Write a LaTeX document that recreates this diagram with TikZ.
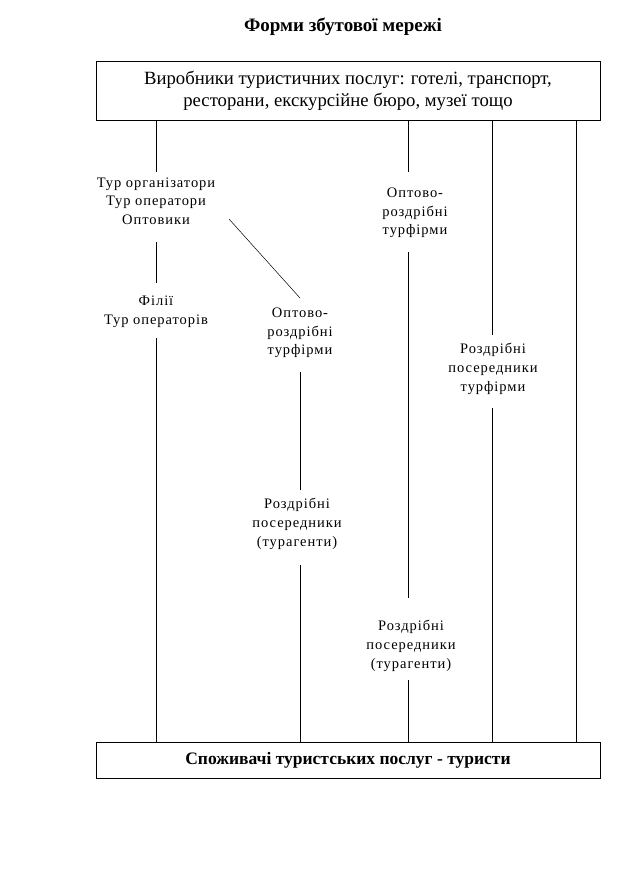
\documentclass[tikz,border=0pt]{standalone}
\usepackage{fontspec}
\setmainfont{Liberation Serif}
\begin{document}
\begin{tikzpicture}[x=1pt,y=-1pt,
  lbl/.style={align=center, inner sep=0pt, font=\addfontfeatures{LetterSpace=6.5}\fontsize{14.5}{18.7}\selectfont},
  bigbox/.style={draw, line width=0.8pt, minimum width=504pt, inner sep=0pt, align=center},
  ln/.style={line width=0.7pt}]
\useasboundingbox (0,0) rectangle (637,889);
\node[font=\bfseries\fontsize{19}{22}\selectfont] (title) at (343,27) {Форми збутової мережі};
\node[bigbox, minimum height=59pt, font=\fontsize{18.7}{22.5}\selectfont] (top) at (348,91)
  {Виробники туристичних послуг: готелі, транспорт,\\ресторани, екскурсійне бюро, музеї тощо};
\node[bigbox, minimum height=36pt, font=\bfseries\fontsize{17.5}{20}\selectfont] (bot) at (348,760)
  {Споживачі туристських послуг - туристи};

% column 1
\node[lbl] (tur) at (156,201) {Тур організатори\\Тур оператори\\Оптовики};
\node[lbl] (fil) at (156,312) {Філії\\Тур операторів};
\coordinate (c1a) at (156,172);
\coordinate (c1b) at (156,242);
\coordinate (c1c) at (156,283);
\coordinate (c1d) at (156,338);
\draw[ln] (top.south -| c1a) -- (c1a);
\draw[ln] (c1b) -- (c1c);
\draw[ln] (c1d) -- (bot.north -| c1d);

% column 2
\coordinate (dA) at (229,219);
\coordinate (dB) at (300,298);
\draw[ln, line width=0.5pt] (dA) -- (dB);
\node[lbl] (or1) at (300,333) {Оптово-\\роздрібні\\турфірми};
\node[lbl] (rp1) at (297,524) {Роздрібні\\посередники\\(турагенти)};
\coordinate (c2a) at (300,372);
\coordinate (c2b) at (300,490);
\coordinate (c2c) at (300,565);
\draw[ln] (c2a) -- (c2b);
\draw[ln] (c2c) -- (bot.north -| c2c);

% column 3
\node[lbl] (or2) at (415,213) {Оптово-\\роздрібні\\турфірми};
\node[lbl] (rp2) at (411,646) {Роздрібні\\посередники\\(турагенти)};
\coordinate (c3a) at (408,172);
\coordinate (c3b) at (408,252);
\coordinate (c3c) at (408,598);
\coordinate (c3d) at (408,680);
\draw[ln] (top.south -| c3a) -- (c3a);
\draw[ln] (c3b) -- (c3c);
\draw[ln] (c3d) -- (bot.north -| c3d);

% column 4
\node[lbl] (rt) at (493,369) {Роздрібні\\посередники\\турфірми};
\coordinate (c4a) at (492,335);
\coordinate (c4b) at (492,408);
\draw[ln] (top.south -| c4a) -- (c4a);
\draw[ln] (c4b) -- (bot.north -| c4b);

% column 5
\coordinate (c5) at (576,200);
\draw[ln] (top.south -| c5) -- (bot.north -| c5);
\end{tikzpicture}
\end{document}
